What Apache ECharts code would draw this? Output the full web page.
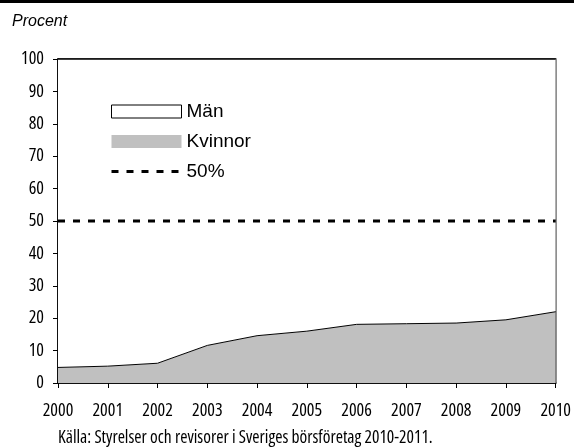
<!DOCTYPE html>
<html>
<head>
<meta charset="utf-8">
<script src="https://cdn.jsdelivr.net/npm/echarts@6/dist/echarts.min.js"></script>
<style>
	html, body { margin: 0; padding: 0; background: #fff; }
	#main { width: 574px; height: 448px; }
</style>
</head>
<body>
<div id="main"></div>
<script>
var years = ['2000', '2001', '2002', '2003', '2004', '2005', '2006', '2007', '2008', '2009', '2010'];
var kvinnor = [4.8, 5.2, 6.1, 11.6, 14.6, 16.0, 18.1, 18.3, 18.5, 19.5, 22.0];
var man = [95.2, 94.8, 93.9, 88.4, 85.4, 84.0, 81.9, 81.7, 81.5, 80.5, 78.0];
var halva = [50, 50, 50, 50, 50, 50, 50, 50, 50, 50, 50];
var yTicks = [0, 10, 20, 30, 40, 50, 60, 70, 80, 90, 100];

var chart = echarts.init(document.getElementById('main'));

//smal etikettstil
var smal = {
	fontFamily : "'Open Sans'",
	fontStyle : 'condensed',
	fontWeight : 380,
	fontSize : 18,
	color : '#000'
};

var option = {
	animation : false,
	backgroundColor : '#fff',
	grid : {
		left : 58,
		right : 14,
		top : 59,
		bottom : 65,
		show : true,
		borderColor : '#000',
		borderWidth : 1.5,
		backgroundColor : 'transparent'
	},
	legend : {
		orient : 'vertical',
		left : 105,
		top : 97,
		itemWidth : 70,
		itemHeight : 13,
		itemGap : 11,
		textStyle : {
			fontFamily : "'Liberation Sans', Arial, sans-serif",
			fontSize : 19,
			color : '#000'
		},
		data : [
			{ name : 'Män', icon : 'rect', itemStyle : { color : '#fff', borderColor : '#000', borderWidth : 1 } },
			{ name : 'Kvinnor', icon : 'rect', itemStyle : { color : '#c0c0c0', borderWidth : 0 } },
			{ name : '50%', itemStyle : { opacity : 0 }, lineStyle : { color : '#000', width : 3, type : [7, 8] } }
		]
	},
	xAxis : {
		type : 'category',
		data : years,
		boundaryGap : false,
		axisLine : { lineStyle : { color : '#000', width : 1.5 } },
		axisTick : { show : true, length : 5, lineStyle : { color : '#000' } },
		axisLabel : Object.assign({ margin : 19 }, smal),
		splitLine : { show : false }
	},
	yAxis : {
		type : 'value',
		min : 0,
		max : 100,
		interval : 10,
		axisLine : { show : true, lineStyle : { color : '#000', width : 1.5 } },
		axisTick : { show : true, length : 5, lineStyle : { color : '#000' } },
		axisLabel : Object.assign({
			margin : 14,
			formatter : function(v){
				return yTicks.indexOf(v) >= 0 ? String(v) : '';
			}
		}, smal),
		splitLine : { show : false }
	},
	series : [
		{
			name : 'Kvinnor',
			type : 'line',
			stack : 'total',
			data : kvinnor,
			symbol : 'none',
			lineStyle : { color : '#000', width : 1 },
			itemStyle : { color : '#c0c0c0' },
			areaStyle : { color : '#c0c0c0', opacity : 1 },
			z : 2
		},
		{
			name : 'Män',
			type : 'line',
			stack : 'total',
			data : man,
			symbol : 'none',
			lineStyle : { color : '#000', width : 1.5 },
			itemStyle : { color : '#fff' },
			areaStyle : { color : '#fff', opacity : 1 },
			z : 2
		},
		{
			name : '50%',
			type : 'line',
			data : halva,
			symbol : 'none',
			lineStyle : { color : '#000', width : 3, type : [7, 8] },
			itemStyle : { color : '#000' },
			z : 5
		}
	],
	graphic : [
		{
			type : 'rect',
			left : 0,
			top : 0,
			shape : { width : 574, height : 3 },
			style : { fill : '#000' }
		},
		{
			type : 'text',
			left : 12,
			top : 14,
			style : {
				text : 'Procent',
				font : "italic 16px 'Liberation Sans', Arial, sans-serif",
				fill : '#000'
			}
		},
		{
			type : 'text',
			left : 58,
			top : 429,
			style : {
				text : 'Källa: Styrelser och revisorer i Sveriges börsföretag 2010-2011.',
				font : "condensed 380 17.5px 'Open Sans'",
				fill : '#000'
			}
		}
	]
};

chart.setOption(option);
</script>
</body>
</html>
